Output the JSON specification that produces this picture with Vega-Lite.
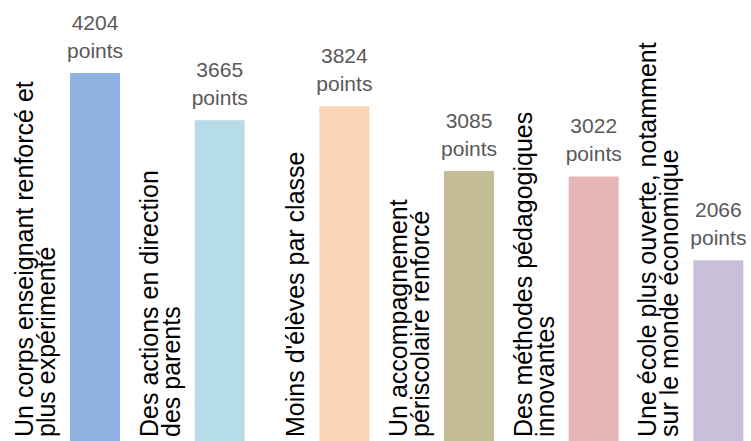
{
  "$schema": "https://vega.github.io/schema/vega-lite/v6.json",
  "width": 748,
  "height": 441,
  "padding": 0,
  "autosize": {"type": "none"},
  "background": "white",
  "config": {"view": {"stroke": null}, "font": "Liberation Sans"},
  "data": {
    "values": [
      {"cat": "Un corps enseignant renforcé et\nplus expérimenté", "points": 4204},
      {"cat": "Des actions en direction\ndes parents", "points": 3665},
      {"cat": "Moins d'élèves par classe", "points": 3824},
      {"cat": "Un accompagnement\npériscolaire renforcé", "points": 3085},
      {"cat": "Des méthodes pédagogiques\ninnovantes", "points": 3022},
      {"cat": "Une école plus ouverte, notamment\nsur le monde économique", "points": 2066}
    ]
  },
  "transform": [
    {"calculate": "datum.points + '\\npoints'", "as": "valueLabel"},
    {"calculate": "split(datum.cat, '\\n')", "as": "lines"},
    {"calculate": "datum.lines[datum.lines.length - 1]", "as": "lastLine"},
    {"calculate": "datum.lines.length > 1 ? datum.lines[0] : ''", "as": "firstLine"}
  ],
  "encoding": {
    "x": {
      "field": "cat",
      "type": "nominal",
      "sort": null,
      "axis": null,
      "scale": {"paddingInner": 0, "paddingOuter": 0}
    }
  },
  "layer": [
    {
      "mark": {"type": "bar", "width": 50, "xOffset": 32.7},
      "encoding": {
        "y": {"field": "points", "type": "quantitative", "axis": null, "scale": {"domain": [0, 5038], "nice": false}},
        "color": {
          "field": "cat",
          "type": "nominal",
          "legend": null,
          "scale": {
            "domain": [
              "Un corps enseignant renforcé et\nplus expérimenté",
              "Des actions en direction\ndes parents",
              "Moins d'élèves par classe",
              "Un accompagnement\npériscolaire renforcé",
              "Des méthodes pédagogiques\ninnovantes",
              "Une école plus ouverte, notamment\nsur le monde économique"
            ],
            "range": ["#8eb1e0", "#b6dde7", "#fad4b4", "#c4bc97", "#e5b5b8", "#c9bfd9"]
          }
        }
      }
    },
    {
      "mark": {
        "type": "text",
        "angle": 270,
        "align": "left",
        "baseline": "bottom",
        "fontSize": 25,
        "xOffset": -2.3,
        "dx": 4,
        "color": "#000000"
      },
      "encoding": {
        "y": {"datum": 0, "type": "quantitative"},
        "text": {"field": "lastLine"}
      }
    },
    {
      "mark": {
        "type": "text",
        "angle": 270,
        "align": "left",
        "baseline": "bottom",
        "fontSize": 25,
        "xOffset": -2.3,
        "dx": 4,
        "dy": -22,
        "color": "#000000"
      },
      "encoding": {
        "y": {"datum": 0, "type": "quantitative"},
        "text": {"field": "firstLine"}
      }
    },
    {
      "mark": {
        "type": "text",
        "align": "center",
        "baseline": "bottom",
        "fontSize": 21,
        "lineHeight": 28,
        "lineBreak": "\n",
        "xOffset": 32.7,
        "dy": -39,
        "color": "#595959"
      },
      "encoding": {
        "y": {"field": "points", "type": "quantitative"},
        "text": {"field": "valueLabel"}
      }
    }
  ]
}
